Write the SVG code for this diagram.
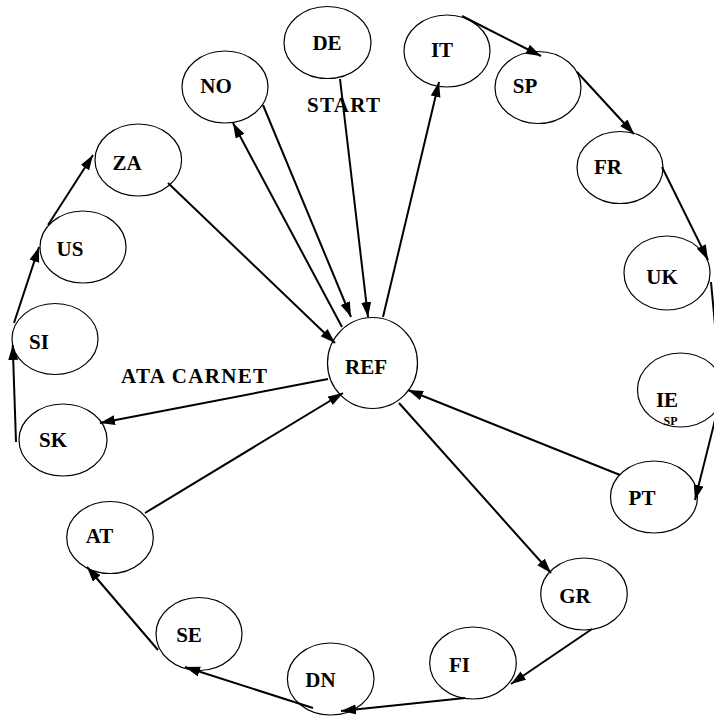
<svg xmlns="http://www.w3.org/2000/svg" width="714" height="717" viewBox="0 0 714 717">
<style>
.n{fill:#fff;stroke:#000;stroke-width:1.2}
.t{font-family:"Liberation Serif","Times New Roman",serif;font-weight:bold;font-size:21px;fill:#000;text-anchor:middle}
.s{font-size:12px}
.c line{stroke:#000;stroke-width:2}
.a{marker-end:url(#ah)}
</style>
<defs>
<marker id="ah" markerUnits="userSpaceOnUse" markerWidth="16" markerHeight="12" refX="15" refY="5" orient="auto">
<path d="M0,0 L15,5 L0,10 z" fill="#000"/>
</marker>
</defs>
<g id="DE"><ellipse class="n" cx="327.5" cy="42.5" rx="43.5" ry="36"/><text class="t" x="327" y="50">DE</text></g>
<g id="NO"><ellipse class="n" cx="225" cy="87" rx="43" ry="36"/><text class="t" x="216" y="93">NO</text></g>
<g id="IT"><ellipse class="n" cx="447" cy="51" rx="43" ry="36"/><text class="t" x="442" y="57">IT</text></g>
<g id="SP"><ellipse class="n" cx="538" cy="87.5" rx="43" ry="36"/><text class="t" x="525" y="93">SP</text></g>
<g id="FR"><ellipse class="n" cx="620" cy="167.5" rx="43" ry="36"/><text class="t" x="608" y="174">FR</text></g>
<g id="UK"><ellipse class="n" cx="667" cy="273" rx="43" ry="37"/><text class="t" x="662" y="284">UK</text></g>
<g id="IE"><ellipse class="n" cx="680.5" cy="390" rx="43" ry="37"/><text class="t" x="667" y="407">IE</text><text class="t s" x="670.5" y="425">SP</text></g>
<g id="PT"><ellipse class="n" cx="654" cy="497" rx="43.5" ry="36"/><text class="t" x="642" y="505">PT</text></g>
<g id="REF"><ellipse class="n" cx="372.5" cy="363" rx="45" ry="45.5"/><text class="t" x="366" y="374">REF</text></g>
<g id="ZA"><ellipse class="n" cx="138.3" cy="160" rx="43.3" ry="36"/><text class="t" x="127" y="170">ZA</text></g>
<g id="US"><ellipse class="n" cx="83" cy="247" rx="43" ry="36"/><text class="t" x="70" y="256">US</text></g>
<g id="SI"><ellipse class="n" cx="55" cy="339" rx="43" ry="35.5"/><text class="t" x="39" y="349">SI</text></g>
<g id="SK"><ellipse class="n" cx="63" cy="440" rx="44" ry="36"/><text class="t" x="53" y="447">SK</text></g>
<g id="AT"><ellipse class="n" cx="110" cy="537.5" rx="43.3" ry="36"/><text class="t" x="99.5" y="543">AT</text></g>
<g id="SE"><ellipse class="n" cx="199" cy="634" rx="43" ry="36.5"/><text class="t" x="189" y="642">SE</text></g>
<g id="DN"><ellipse class="n" cx="330.7" cy="679" rx="43.3" ry="36"/><text class="t" x="320.5" y="687">DN</text></g>
<g id="FI"><ellipse class="n" cx="473" cy="663" rx="43.3" ry="36"/><text class="t" x="459.5" y="672">FI</text></g>
<g id="GR"><ellipse class="n" cx="584" cy="594" rx="43.3" ry="36"/><text class="t" x="575" y="603">GR</text></g>
<g id="labels">
<text class="t" x="343.5" y="112" textLength="73" lengthAdjust="spacing">START</text>
<text class="t" x="194" y="383" textLength="146" lengthAdjust="spacing">ATA CARNET</text>
</g>
<g id="connectors" class="c">
<line class="a" x1="462" y1="16" x2="541" y2="56"/>
<line class="a" x1="577" y1="72" x2="634" y2="134"/>
<line class="a" x1="662" y1="167" x2="708" y2="260"/>
<line x1="711" y1="282" x2="715" y2="325"/>
<line class="a" x1="715" y1="420" x2="695" y2="500"/>
<line class="a" x1="620" y1="475" x2="408" y2="390"/>
<line class="a" x1="399" y1="403" x2="551" y2="573"/>
<line class="a" x1="592" y1="629" x2="511" y2="684"/>
<line class="a" x1="465" y1="698" x2="341" y2="711"/>
<line class="a" x1="313" y1="708" x2="185" y2="667"/>
<line class="a" x1="158" y1="650" x2="87" y2="567"/>
<line class="a" x1="145" y1="513" x2="343" y2="393"/>
<line class="a" x1="328" y1="379" x2="100" y2="423"/>
<line class="a" x1="16" y1="442" x2="12.7" y2="345"/>
<line class="a" x1="14" y1="323" x2="39" y2="247"/>
<line class="a" x1="48" y1="225" x2="93" y2="155"/>
<line class="a" x1="168" y1="183" x2="335" y2="343"/>
<line class="a" x1="263" y1="105" x2="351" y2="317"/>
<line class="a" x1="342" y1="327" x2="233" y2="123"/>
<line class="a" x1="340" y1="79" x2="368" y2="317"/>
<line class="a" x1="383" y1="317" x2="439" y2="82"/>
</g>
</svg>
